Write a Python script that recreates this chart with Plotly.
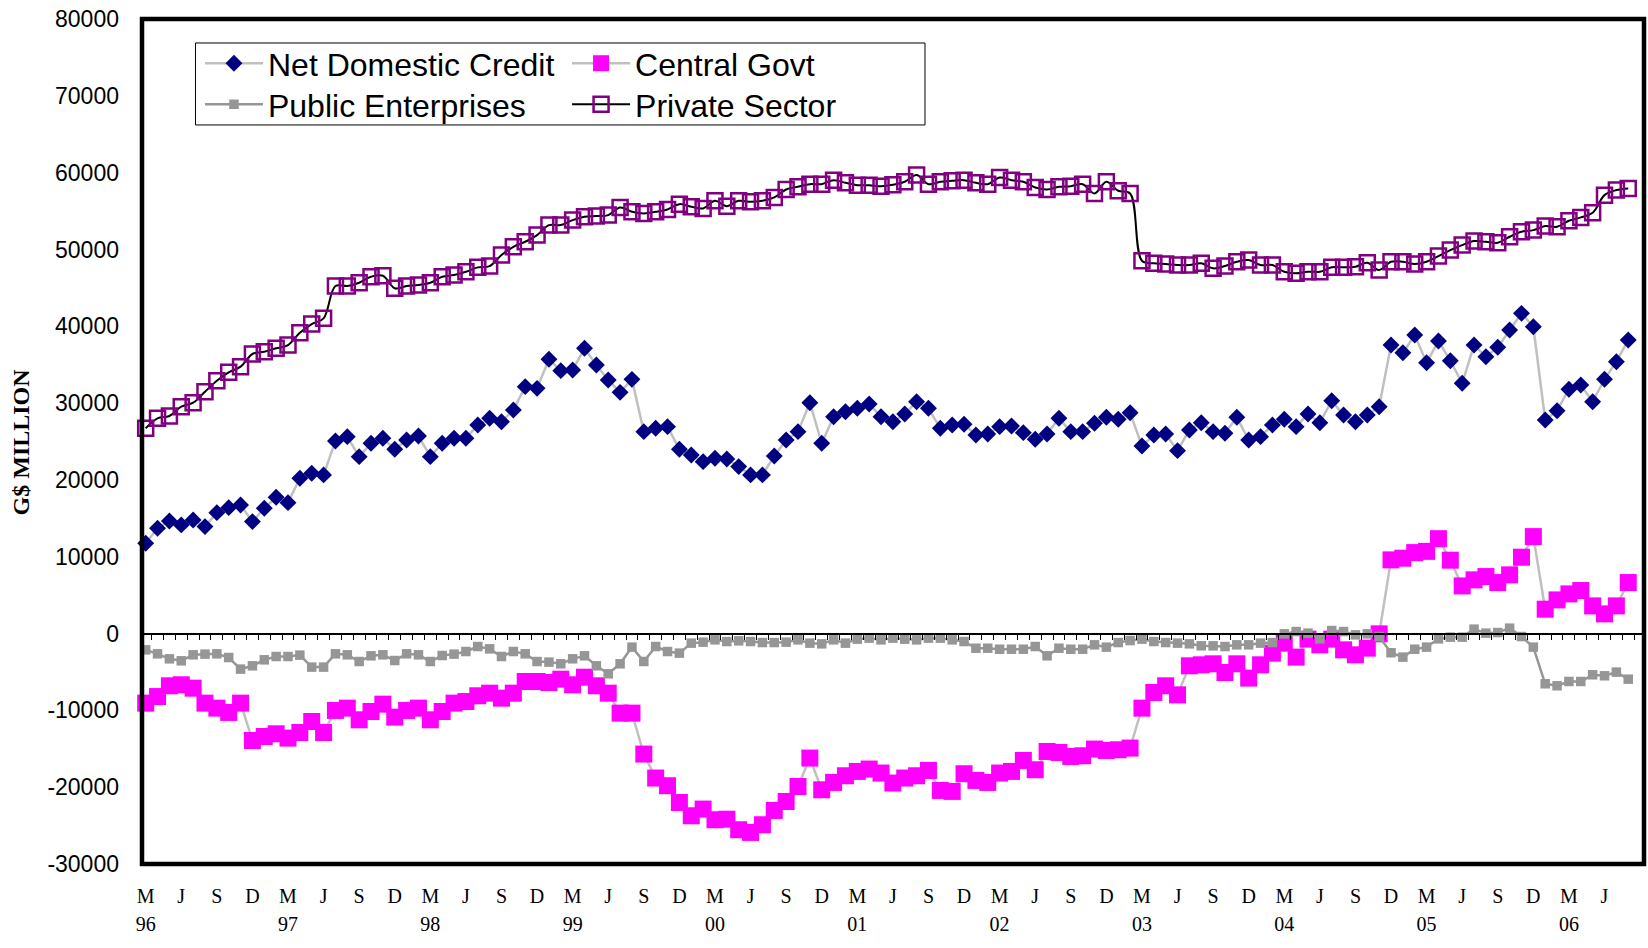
import plotly.graph_objects as go

# ---------------- data (monthly, March 1996 - August 2006) ----------------
years = ["96", "97", "98", "99", "00", "01", "02", "03", "04", "05", "06"]
quarter_letters = ["M", "J", "S", "D"]

net_domestic_credit = [
    11760, 13710, 14660, 14140, 14790, 13920, 15740, 16390, 16740, 14570,
    16310, 17740, 17040, 20210, 20860, 20650, 25070, 25630, 23030, 24770,
    25420, 23990, 25200, 25720, 23030, 24770, 25420, 25420, 27150, 28020,
    27580, 29100, 32140, 31920, 35700, 34220, 34310, 37130, 34960, 33010,
    31400, 33090, 26280, 26720, 26930, 23990, 23250, 22380, 22820, 22730,
    21730, 20650, 20650, 23120, 25200, 26280, 30050, 24770, 28230, 28880,
    29320, 29880, 28230, 27580, 28580, 30180, 29320, 26720, 27150, 27240,
    25850, 25980, 26930, 27020, 26150, 25290, 25980, 28020, 26280, 26280,
    27370, 28150, 27890, 28750, 24420, 25850, 25980, 23810, 26500, 27450,
    26280, 26070, 28150, 25200, 25630, 27150, 27890, 26930, 28580, 27450,
    30310, 28450, 27580, 28450, 29530, 37560, 36560, 38860, 35260, 38080,
    35520, 32580, 37560, 36040, 37260, 39510, 41680, 39940, 27800, 29010,
    31800, 32360, 30180, 33100, 35390, 38210,
]

central_govt = [
    -9060, -8200, -6800, -6670, -7110, -9060, -9710, -10270, -9060, -13920,
    -13400, -13050, -13610, -12880, -11450, -12880, -10010, -9710, -11230, -10150,
    -9190, -10880, -10010, -9710, -11230, -10150, -9060, -8850, -8100, -7760,
    -8410, -7760, -6240, -6240, -6370, -5940, -6670, -5680, -6800, -7760,
    -10360, -10360, -15690, -18810, -19810, -21990, -23720, -22850, -24240, -24170,
    -25540, -25890, -24890, -23030, -21860, -19910, -16210, -20340, -19380, -18510,
    -17950, -17640, -18160, -19460, -18810, -18510, -17820, -20420, -20550, -18250,
    -19120, -19380, -18160, -17950, -16520, -17730, -15350, -15480, -16000, -15910,
    -15040, -15220, -15130, -14910, -9710, -7670, -6800, -7980, -4200, -4070,
    -3940, -5070, -3940, -5800, -4070, -2550, -1250, -3070, -730, -1470,
    -730, -2120, -2770, -1900, -40, 9590, 9810, 10540, 10700, 12350,
    9550, 6200, 6990, 7420, 6640, 7640, 9940, 12620, 3170, 4380,
    5160, 5600, 3600, 2560, 3600, 6640,
]

public_enterprises = [
    -2120, -2640, -3290, -3550, -2770, -2680, -2640, -3120, -4630, -4200,
    -3420, -2990, -2990, -2810, -4370, -4370, -2640, -2770, -3640, -2900,
    -2770, -3510, -2640, -2770, -3640, -2860, -2680, -2340, -1690, -1990,
    -2990, -2340, -2640, -3640, -3720, -3940, -3290, -2900, -4200, -5240,
    -3940, -1770, -3640, -1690, -2340, -2550, -1250, -1120, -820, -1040,
    -950, -1040, -1170, -1170, -1120, -820, -1250, -1340, -820, -1250,
    -730, -600, -820, -600, -730, -820, -600, -600, -820, -1040,
    -1910, -1910, -2040, -2040, -2040, -1690, -2900, -1910, -2040, -2040,
    -1470, -1770, -1170, -910, -730, -1040, -1170, -1250, -1340, -1600,
    -1600, -1690, -1470, -1470, -1250, -1170, -40, 260, 50, -690,
    390, 260, -170, -40, -390, -2500, -3070, -2040, -1770, -690,
    -470, -470, 570, 50, 130, 700, -390, -1770, -6540, -6800,
    -6240, -6240, -5370, -5500, -5020, -5940,
]

private_sector = [
    26720, 28020, 28320, 29530, 30050, 31480, 32920, 34010, 34740, 36390,
    36690, 37130, 37560, 39160, 40290, 41030, 45240, 45240, 45670, 46450,
    46580, 44940, 45240, 45370, 45670, 46450, 46670, 47100, 47670, 47840,
    49270, 50350, 51000, 51870, 53170, 53170, 53820, 54250, 54340, 54470,
    55470, 54900, 54690, 54900, 55210, 55900, 55550, 55340, 56330, 55640,
    56330, 56200, 56330, 56770, 57810, 58150, 58500, 58500, 59020, 58670,
    58370, 58370, 58240, 58420, 58810, 59680, 58500, 58810, 58940, 59020,
    58670, 58500, 59370, 59020, 58810, 58070, 57810, 58150, 58240, 58500,
    57290, 58810, 57640, 57290, 48530, 48190, 48100, 47970, 47970, 48190,
    47540, 47840, 48400, 48620, 47970, 47970, 47100, 46890, 47100, 47100,
    47670, 47670, 47750, 48270, 47320, 48400, 48400, 48100, 48400, 49140,
    49920, 50570, 51090, 51000, 50870, 51650, 52300, 52520, 53040, 52960,
    53730, 54170, 54770, 57070, 57730, 57950,
]

y_tick_values = [-30000, -20000, -10000, 0, 10000, 20000, 30000, 40000, 50000, 60000, 70000, 80000]

# ---------------- derived axis helpers ----------------
x = list(range(len(net_domestic_credit)))
x_tickvals = x[::3]
x_ticktext = [quarter_letters[k % 4] for k in range(len(x_tickvals))]
year_tickvals = x[::12]
year_ticktext = years[:len(year_tickvals)]
y_ticktext = [str(v) for v in y_tick_values]

XRANGE = [-0.31, 126.33]
YRANGE = [-30000, 80000]

SANS = "Liberation Sans, Arial, sans-serif"
SERIF = "Liberation Serif, Times New Roman, serif"

fig = go.Figure()
fig.add_trace(go.Scatter(
    x=x, y=net_domestic_credit, name="Net Domestic Credit", mode="lines+markers",
    line=dict(color="#C0C0C0", width=2.5),
    marker=dict(symbol="diamond", size=13, color="#000080"),
    cliponaxis=False, legend="legend",
))
fig.add_trace(go.Scatter(
    x=x, y=central_govt, name="Central Govt", mode="lines+markers",
    line=dict(color="#C0C0C0", width=2.5),
    marker=dict(symbol="square", size=17, color="#FF00FF"),
    cliponaxis=False, legend="legend2",
))
fig.add_trace(go.Scatter(
    x=x, y=public_enterprises, name="Public Enterprises", mode="lines+markers",
    line=dict(color="#969696", width=2.5),
    marker=dict(symbol="square", size=9.5, color="#969696"),
    cliponaxis=False, legend="legend3",
))
fig.add_trace(go.Scatter(
    x=x, y=private_sector, name="Private Sector", mode="lines+markers",
    line=dict(color="black", width=2, shape="spline", smoothing=1),
    marker=dict(symbol="square-open", size=15, color="#800080",
                line=dict(color="#800080", width=2.5)),
    cliponaxis=False, legend="legend4",
))
# dummy traces so the extra axes (zero line with ticks, year labels) are drawn
fig.add_trace(go.Scatter(x=[None], y=[None], xaxis="x2", yaxis="y",
                         showlegend=False, hoverinfo="skip"))
fig.add_trace(go.Scatter(x=[None], y=[None], xaxis="x3", yaxis="y",
                         showlegend=False, hoverinfo="skip"))

legend_common = dict(
    xanchor="left", yanchor="top", bgcolor="rgba(0,0,0,0)", borderwidth=0,
    font=dict(family=SANS, size=32, color="black"), itemwidth=58,
    tracegroupgap=0, orientation="v",
)
ROW1_Y, ROW2_Y = 0.980, 0.9314
COL1_X, COL2_X = 0.0386, 0.283

fig.update_layout(
    width=1648, height=948,
    margin=dict(l=142, r=4, t=19, b=84),
    paper_bgcolor="white", plot_bgcolor="white",
    showlegend=True,
    xaxis=dict(range=XRANGE, tickvals=x_tickvals, ticktext=x_ticktext,
               showgrid=False, zeroline=False, showline=False, ticks="",
               tickfont=dict(family=SERIF, size=20, color="black"),
               ticklabelstandoff=18),
    xaxis3=dict(range=XRANGE, overlaying="x", anchor="y", side="bottom",
                tickvals=year_tickvals, ticktext=year_ticktext,
                showgrid=False, zeroline=False, showline=False, ticks="",
                tickfont=dict(family=SERIF, size=20, color="black"),
                ticklabelstandoff=46),
    xaxis2=dict(range=XRANGE, overlaying="x", anchor="free",
                position=(0 - YRANGE[0]) / (YRANGE[1] - YRANGE[0]),
                showgrid=False, zeroline=False, showline=True,
                linecolor="black", linewidth=1.5, ticks="outside", ticklen=6,
                tickwidth=1, tickcolor="black",
                tickvals=[i + 0.5 for i in x], showticklabels=False),
    yaxis=dict(range=YRANGE, tickvals=y_tick_values, ticktext=y_ticktext,
               showgrid=False, zeroline=False, showline=False, ticks="",
               tickfont=dict(family=SANS, size=23, color="black"),
               ticklabelstandoff=22),
    legend=dict(x=COL1_X, y=ROW1_Y, **legend_common),
    legend2=dict(x=COL2_X, y=ROW1_Y, **legend_common),
    legend3=dict(x=COL1_X, y=ROW2_Y, **legend_common),
    legend4=dict(x=COL2_X, y=ROW2_Y, **legend_common),
    shapes=[
        dict(type="rect", xref="paper", yref="paper", x0=0.0356, x1=0.5213,
             y0=0.8746, y1=0.9716, line=dict(color="black", width=1),
             fillcolor="white", layer="below"),
        dict(type="rect", xref="paper", yref="paper", x0=0, x1=1, y0=0, y1=1,
             line=dict(color="black", width=4.5), layer="above"),
    ],
    annotations=[
        dict(text="<b>G$ MILLION</b>", xref="paper", yref="paper",
             x=-0.0806, y=0.5, xanchor="center", yanchor="middle",
             textangle=-90, showarrow=False,
             font=dict(family=SERIF, size=24, color="black")),
    ],
)

fig.write_html("out.html", config={"displayModeBar": False},
               post_script="document.body.style.margin='0';document.body.style.overflow='hidden';")
